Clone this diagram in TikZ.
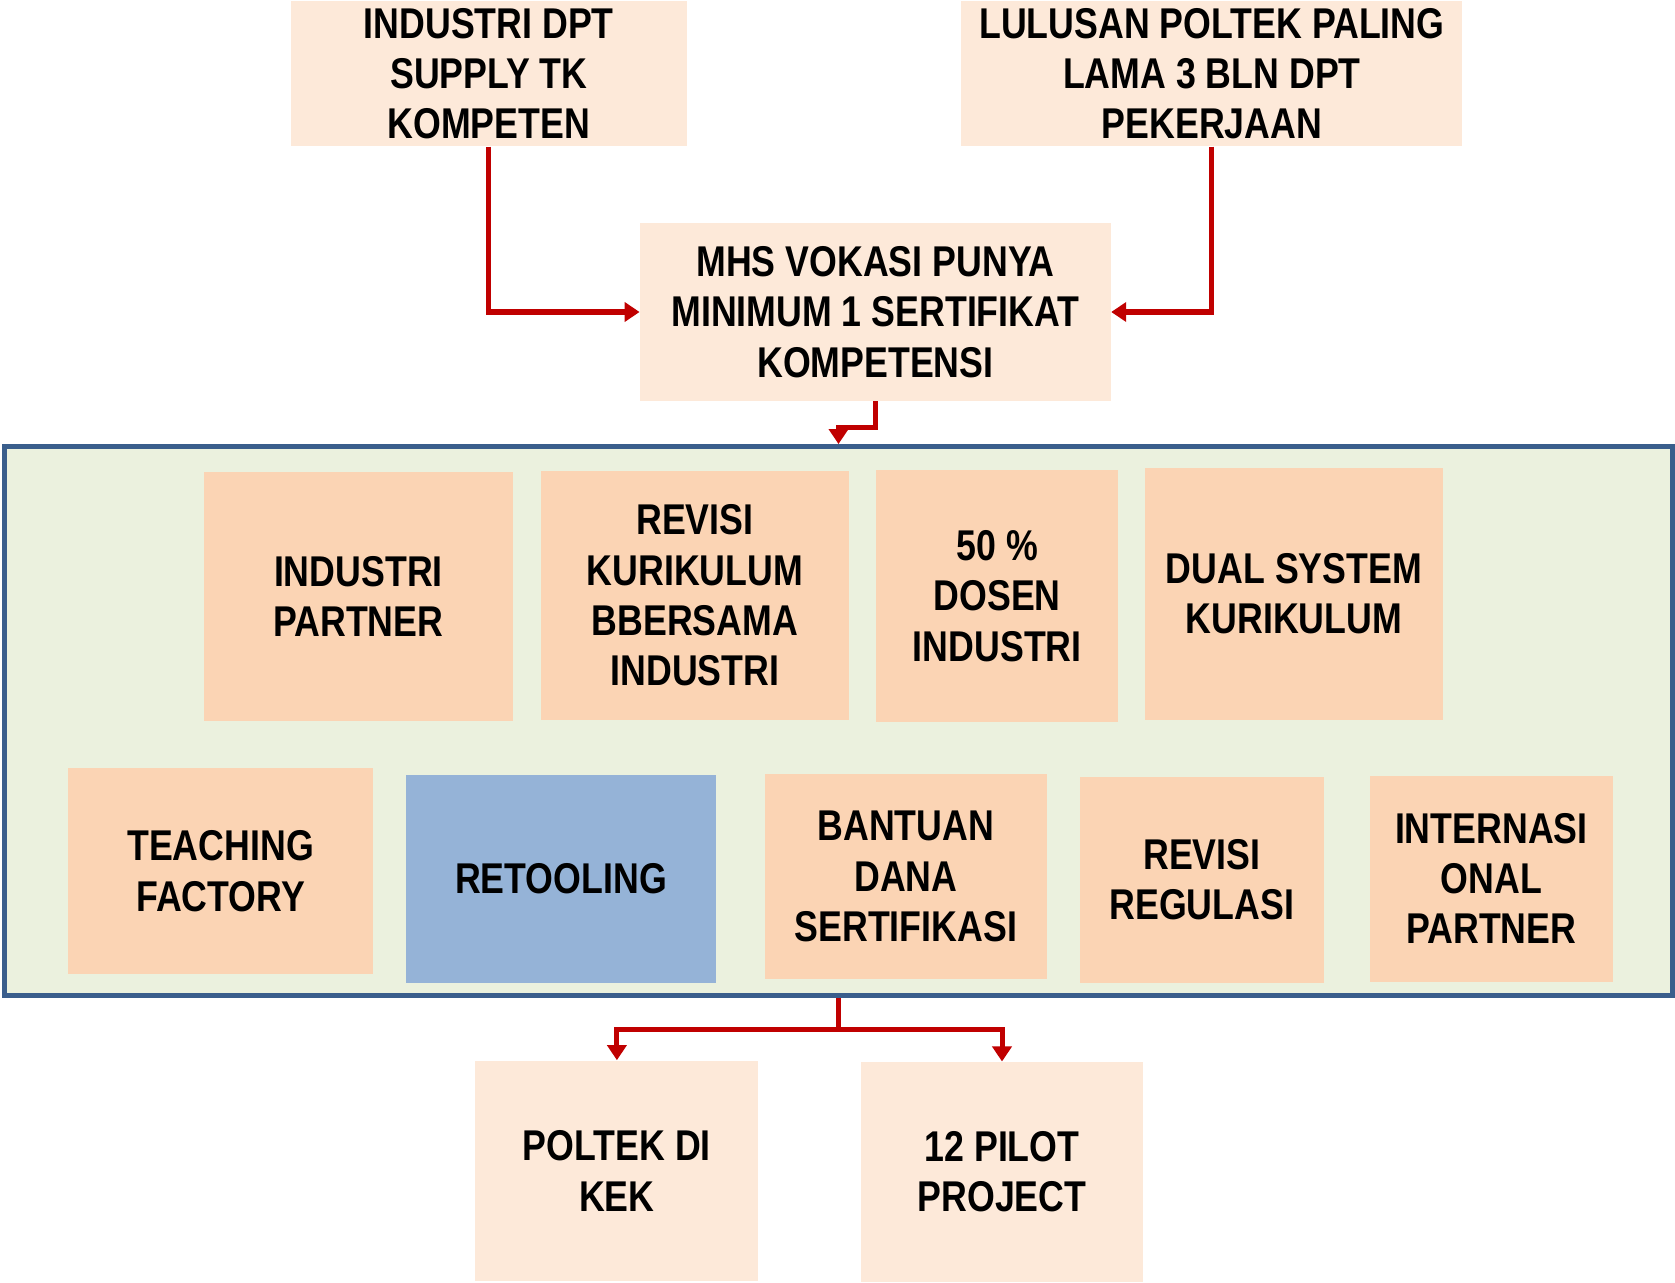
\documentclass[tikz,border=0pt]{standalone}
\usepackage{fontspec}
\setmainfont{Liberation Sans}[FakeStretch=0.83]
\usetikzlibrary{arrows.meta}
\definecolor{toppeach}{HTML}{FDE9D9}
\definecolor{peach}{HTML}{FBD4B4}
\definecolor{retool}{HTML}{95B3D7}
\definecolor{panel}{HTML}{EBF1DE}
\definecolor{panelborder}{HTML}{3A5E8C}
\definecolor{darkred}{HTML}{C00000}
\tikzset{
  txt/.style={align=center, inner sep=0pt, font=\bfseries\fontsize{24.5}{28.6}\selectfont, text=black},
  topbox/.style={txt, fill=toppeach},
  inbox/.style={txt, fill=peach},
  bluebox/.style={txt, fill=retool},
  conn/.style={draw=darkred, line width=2.85pt, -{Triangle[width=0.38cm,length=0.3cm]}},
}
\begin{document}
\begin{tikzpicture}[x=0.02cm,y=-0.02cm]
\useasboundingbox (0,0) rectangle (1675,1283);
% panel
\node[draw=panelborder, fill=panel, line width=2.85pt, minimum width=33.36cm, minimum height=10.98cm, inner sep=0pt] (frame) at (838.5,721) {};
% top boxes
\node[topbox, minimum width=7.93cm, minimum height=2.91cm] (top1) at (488.8,73.5) {INDUSTRI DPT\\SUPPLY TK\\KOMPETEN};
\node[topbox, minimum width=10.02cm, minimum height=2.91cm] (top2) at (1211.9,73.5) {LULUSAN POLTEK PALING\\LAMA 3 BLN DPT\\PEKERJAAN};
\node[topbox, minimum width=9.42cm, minimum height=3.55cm] (mhs) at (875.4,312) {MHS VOKASI PUNYA\\MINIMUM 1 SERTIFIKAT\\KOMPETENSI};
% row 1
\node[inbox, minimum width=6.17cm, minimum height=4.98cm] (ip) at (358.4,596.6) {INDUSTRI\\PARTNER};
\node[inbox, minimum width=6.17cm, minimum height=4.98cm] (rk) at (694.9,595.5) {REVISI\\KURIKULUM\\BBERSAMA\\INDUSTRI};
\node[inbox, minimum width=4.85cm, minimum height=5.04cm] (dosen) at (997.2,596) {50 \%\\DOSEN\\INDUSTRI};
\node[inbox, minimum width=5.96cm, minimum height=5.04cm] (dual) at (1294,594) {DUAL SYSTEM\\KURIKULUM};
% row 2
\node[inbox, minimum width=6.09cm, minimum height=4.12cm] (tf) at (220.6,871.1) {TEACHING\\FACTORY};
\node[bluebox, minimum width=6.19cm, minimum height=4.15cm] (ret) at (560.9,878.9) {RETOOLING};
\node[inbox, minimum width=5.64cm, minimum height=4.12cm] (dana) at (905.8,876.5) {BANTUAN\\DANA\\SERTIFIKASI};
\node[inbox, minimum width=4.87cm, minimum height=4.12cm] (reg) at (1201.8,879.7) {REVISI\\REGULASI};
\node[inbox, minimum width=4.87cm, minimum height=4.12cm] (intl) at (1491.3,878.6) {INTERNASI\\ONAL\\PARTNER};
% bottom
\node[topbox, minimum width=5.66cm, minimum height=4.42cm] (kek) at (616.9,1171) {POLTEK DI\\KEK};
\node[topbox, minimum width=5.64cm, minimum height=4.40cm] (pilot) at (1002,1171.8) {12 PILOT\\PROJECT};
% connectors
\draw[conn] (top1.south) |- (mhs.west);
\draw[conn] (top2.south) |- (mhs.east);
\draw[conn] (mhs.south) -- ++(0,26) -| (frame.north);
\draw[conn] (frame.south) -- ++(0,32) -| (kek.north);
\draw[conn] (frame.south) ++(0,32) -| (pilot.north);
\end{tikzpicture}
\end{document}
